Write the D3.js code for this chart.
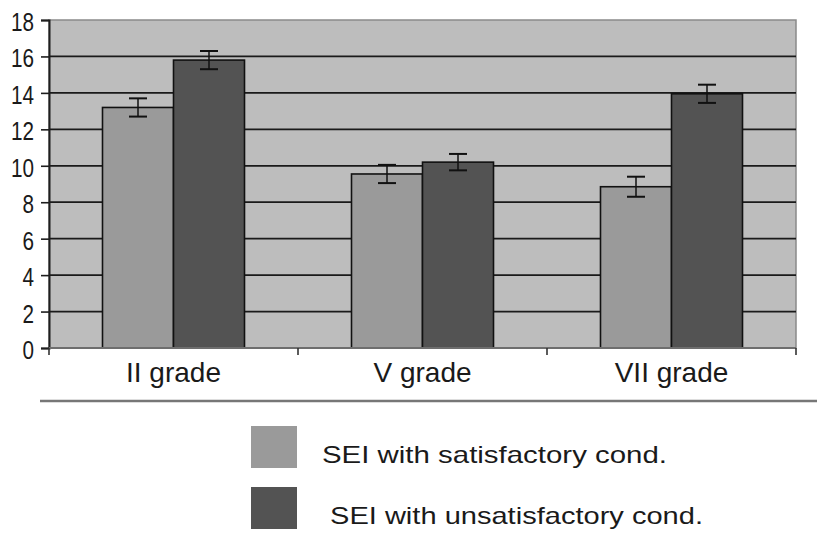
<!DOCTYPE html>
<html>
<head>
<meta charset="utf-8">
<script src="https://cdn.jsdelivr.net/npm/d3@7"></script>
<style>
  body { margin: 0; background: #fff; }
  text { font-family: "Liberation Sans", Arial, sans-serif; fill: #1a1a1a; }
</style>
</head>
<body>
<div class="chart"></div>
<script>
var categories = ["II grade", "V grade", "VII grade"]
var seriesNames = ["SEI with satisfactory cond.", "SEI with unsatisfactory cond."]
var satisfactory = [13.2, 9.55, 8.85]
var unsatisfactory = [15.8, 10.2, 13.95]
var errSatisfactory = [0.5, 0.5, 0.55]
var errUnsatisfactory = [0.5, 0.45, 0.5]
var yTicks = [0, 2, 4, 6, 8, 10, 12, 14, 16, 18]

document.addEventListener("DOMContentLoaded", drawChart)

function drawChart() {
  var colors = ["#9a9a9a", "#535353"]

  var width = 817, height = 534
  var svg = d3.select(".chart").append("svg")
    .attr("width", width)
    .attr("height", height)

  var plotLeft = 49, plotRight = 796, plotTop = 20, plotBottom = 348

  var x = d3.scaleBand()
    .domain(categories)
    .range([plotLeft, plotRight])
  var y = d3.scaleLinear()
    .domain([0, 18])
    .range([plotBottom, plotTop])

  var data = categories.map((c, i) => {
    return {
      cat: c,
      vals: [
        { s: 0, v: satisfactory[i], e: errSatisfactory[i] },
        { s: 1, v: unsatisfactory[i], e: errUnsatisfactory[i] }
      ]
    }
  })

  // plot background
  svg.append("rect")
    .attr("x", plotLeft).attr("y", plotTop)
    .attr("width", plotRight - plotLeft).attr("height", plotBottom - plotTop)
    .attr("fill", "#bdbdbd")
    .attr("stroke", "#8a8a8a")
    .attr("stroke-width", 1.5)

  // gridlines
  svg.append("g")
    .selectAll("line")
    .data(yTicks.filter(t => t > 0 && t < 18))
    .enter().append("line")
    .attr("x1", plotLeft).attr("x2", plotRight)
    .attr("y1", d => y(d)).attr("y2", d => y(d))
    .attr("stroke", "#1a1a1a")
    .attr("stroke-width", 1.8)

  // bars
  var bw = 71
  var groups = svg.append("g").selectAll("g")
    .data(data)
    .enter().append("g")
    .attr("transform", d => `translate(${x(d.cat) + x.bandwidth() / 2},0)`)

  groups.selectAll("rect")
    .data(d => d.vals)
    .enter().append("rect")
    .attr("x", d => d.s === 0 ? -bw : 0)
    .attr("y", d => y(d.v))
    .attr("width", bw)
    .attr("height", d => y(0) - y(d.v))
    .attr("fill", d => colors[d.s])
    .attr("stroke", "#111")
    .attr("stroke-width", 1.6)

  // error bars
  var eb = groups.selectAll("g.err")
    .data(d => d.vals)
    .enter().append("g")
    .attr("class", "err")
    .attr("transform", d => `translate(${d.s === 0 ? -bw / 2 : bw / 2},0)`)
  eb.append("line")
    .attr("x1", 0).attr("x2", 0)
    .attr("y1", d => y(d.v + d.e)).attr("y2", d => y(d.v - d.e))
    .attr("stroke", "#111").attr("stroke-width", 1.5)
  eb.selectAll("line.cap")
    .data(d => [d.v + d.e, d.v - d.e])
    .enter().append("line")
    .attr("class", "cap")
    .attr("x1", -9).attr("x2", 9)
    .attr("y1", d => y(d)).attr("y2", d => y(d))
    .attr("stroke", "#111").attr("stroke-width", 2)

  // y axis
  var yAxis = svg.append("g")
    .attr("transform", `translate(${plotLeft},0)`)
    .call(d3.axisLeft(y).tickValues(yTicks).tickSize(8).tickPadding(7))
  yAxis.select(".domain").attr("stroke", "#1e1e1e").attr("stroke-width", 2)
  yAxis.selectAll(".tick line").attr("stroke", "#1e1e1e").attr("stroke-width", 1.6)
  yAxis.selectAll(".tick text")
    .attr("font-size", 25)
    .attr("fill", "#1a1a1a")
    .attr("dy", "0.42em")
    .attr("textLength", d => String(d).length * 11.5)
    .attr("lengthAdjust", "spacingAndGlyphs")
    .style("font-family", "'Liberation Sans', Arial, sans-serif")

  // x axis baseline
  svg.append("line")
    .attr("x1", plotLeft).attr("x2", plotRight)
    .attr("y1", plotBottom).attr("y2", plotBottom)
    .attr("stroke", "#6e6e6e").attr("stroke-width", 2)
  svg.append("g").selectAll("line")
    .data(categories.map(c => x(c)).concat([plotRight]))
    .enter().append("line")
    .attr("x1", d => d).attr("x2", d => d)
    .attr("y1", plotBottom).attr("y2", plotBottom + 7)
    .attr("stroke", "#333").attr("stroke-width", 1.6)

  svg.append("g").selectAll("text")
    .data(categories)
    .enter().append("text")
    .attr("x", d => x(d) + x.bandwidth() / 2)
    .attr("y", 382)
    .attr("text-anchor", "middle")
    .attr("font-size", 28)
    .text(d => d)

  // separator line
  svg.append("line")
    .attr("x1", 40).attr("x2", width)
    .attr("y1", 401).attr("y2", 401)
    .attr("stroke", "#777").attr("stroke-width", 2.5)

  // legend
  var legendY = [426, 487]
  var legendTextX = [322, 330]
  var legendTextW = [345, 373]
  var lg = svg.append("g").selectAll("g")
    .data(seriesNames)
    .enter().append("g")
  lg.append("rect")
    .attr("x", 251)
    .attr("y", (d, i) => legendY[i])
    .attr("width", 46).attr("height", 42)
    .attr("fill", (d, i) => colors[i])
  lg.append("text")
    .attr("x", (d, i) => legendTextX[i])
    .attr("y", (d, i) => legendY[i] + 37)
    .attr("font-size", 24)
    .attr("textLength", (d, i) => legendTextW[i])
    .attr("lengthAdjust", "spacingAndGlyphs")
    .text(d => d)
}
</script>
</body>
</html>
